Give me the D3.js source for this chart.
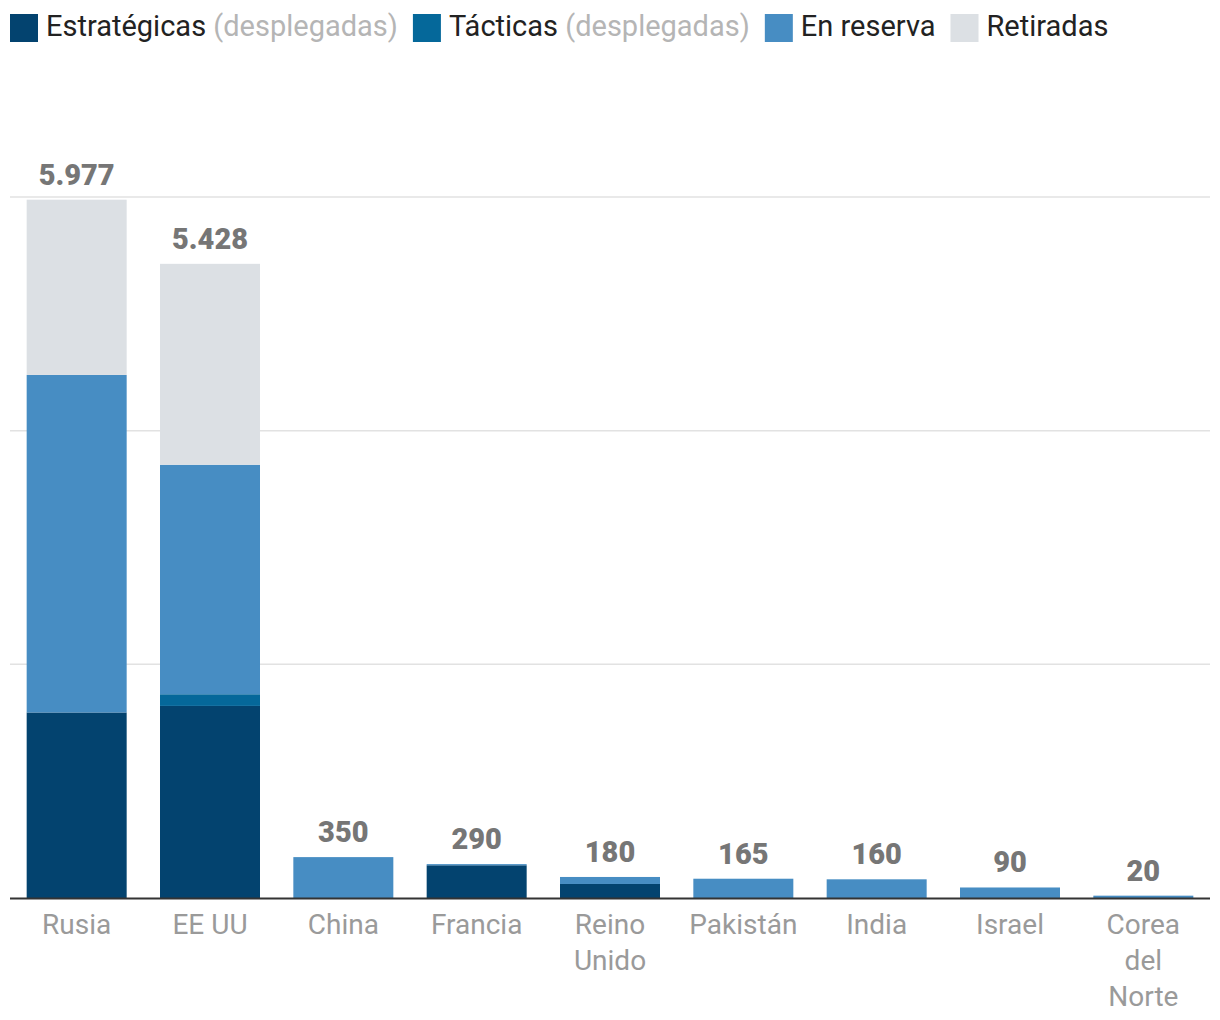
<!DOCTYPE html>
<html><head><meta charset="utf-8">
<script src="https://cdn.jsdelivr.net/npm/d3@7"></script>
<style>body{margin:0;background:#fff;} svg{display:block;}</style>
</head><body><svg id="c" width="1220" height="1020"></svg>
<script>
const countries = ["Rusia","EE UU","China","Francia","Reino Unido","Pakistán","India","Israel","Corea del Norte"];
const countryLines = [["Rusia"],["EE UU"],["China"],["Francia"],["Reino","Unido"],["Pakistán"],["India"],["Israel"],["Corea","del","Norte"]];
const estrategicas = [1588,1644,0,280,120,0,0,0,0];
const tacticas     = [0,100,0,0,0,0,0,0,0];
const reserva      = [2889,1964,350,10,60,165,160,90,20];
const retiradas    = [1500,1720,0,0,0,0,0,0,0];
const totals       = [5977,5428,350,290,180,165,160,90,20];
const yTicks = [0,2000,4000,6000];
const seriesKeys = ["estrategicas","tacticas","reserva","retiradas"];
const seriesColors = ["#03436f","#05689a","#478dc3","#dce0e4"];
const legendMain = ["Estratégicas","Tácticas","En reserva","Retiradas"];
const legendSub = ["(desplegadas)","(desplegadas)","",""];

const svg = d3.select("#c");
const font = "Roboto, 'Liberation Sans', sans-serif";
const x = d3.scaleBand().domain(countries).range([10,1210]).paddingInner(0.25).paddingOuter(0.125);
const y = d3.scaleLinear().domain([0,6000]).range([898,197]);

// gridlines
svg.append("g").selectAll("line").data(yTicks.filter(d=>d>0)).join("line")
  .attr("x1",10).attr("x2",1210).attr("y1",d=>y(d)).attr("y2",d=>y(d))
  .attr("stroke","#e2e2e2").attr("stroke-width",1.5);

const table = countries.map((c,i)=>({country:c, estrategicas:estrategicas[i], tacticas:tacticas[i], reserva:reserva[i], retiradas:retiradas[i]}));
const stacked = d3.stack().keys(seriesKeys)(table);
svg.append("g").selectAll("g").data(stacked).join("g").attr("fill",(d,i)=>seriesColors[i])
  .selectAll("rect").data(d=>d).join("rect")
  .attr("x",d=>x(d.data.country)).attr("width",x.bandwidth())
  .attr("y",d=>y(d[1])).attr("height",d=>Math.max(0,y(d[0])-y(d[1])));

// baseline
svg.append("line").attr("x1",10).attr("x2",1210).attr("y1",y(0)+0.5).attr("y2",y(0)+0.5)
  .attr("stroke","#333").attr("stroke-width",2);

const loc = d3.formatLocale({decimal:",",thousands:".",grouping:[3],currency:["","€"]});
const fmt = loc.format(",d");
svg.append("g").selectAll("text").data(countries).join("text")
  .attr("x",d=>x(d)+x.bandwidth()/2).attr("y",(d,i)=>y(totals[i])-15)
  .attr("text-anchor","middle").attr("font-family",font).attr("font-weight","900")
  .attr("font-size",29).attr("fill","#767676").text((d,i)=>fmt(totals[i]));

// x labels
const xl = svg.append("g");
countries.forEach((c,i)=>{
  const t = xl.append("text").attr("text-anchor","middle").attr("font-family",font)
    .attr("font-size",28).attr("fill","#9a9a9a");
  countryLines[i].forEach((ln,j)=>{
    t.append("tspan").attr("x",x(c)+x.bandwidth()/2).attr("y",934+j*36).text(ln);
  });
});

// legend
const lg = svg.append("g");
let lx = 10;
legendMain.forEach((m,i)=>{
  lg.append("rect").attr("x",lx).attr("y",14).attr("width",28).attr("height",28).attr("fill",seriesColors[i]);
  const t = lg.append("text").attr("x",lx+36).attr("y",36).attr("font-family",font).attr("font-size",29).attr("fill","#222");
  t.append("tspan").text(m);
  if(legendSub[i]) t.append("tspan").attr("fill","#b5b5b5").text(" "+legendSub[i]);
  lx = lx + 36 + t.node().getComputedTextLength() + 15;
});
</script></body></html>
